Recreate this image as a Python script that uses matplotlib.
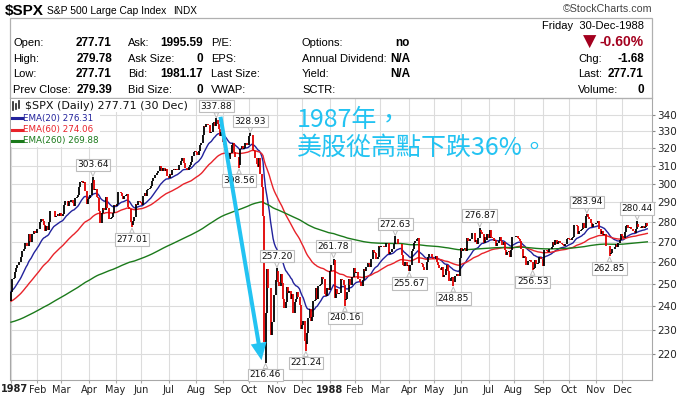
import numpy as np
import pandas as pd
import matplotlib
matplotlib.use("Agg")
import matplotlib.pyplot as plt
from matplotlib.patches import Rectangle, FancyArrowPatch
from matplotlib.lines import Line2D
from matplotlib.ticker import FixedLocator, NullLocator, FixedFormatter

# ---------------- data ----------------
holidays = ["1987-01-01", "1987-02-16", "1987-04-17", "1987-05-25", "1987-07-03",
            "1987-09-07", "1987-11-26", "1987-12-25",
            "1988-01-01", "1988-02-15", "1988-04-01", "1988-05-30", "1988-07-04",
            "1988-09-05", "1988-11-24", "1988-12-26"]

prev_close_1986 = 242.17

close_1987 = [
    # Jan
    246.45, 252.19, 252.78, 255.33, 257.28, 258.73, 260.30, 259.95, 262.64, 265.49, 266.28,
    269.34, 269.04, 267.84, 273.91, 270.10, 269.61, 273.75, 275.40, 274.24, 274.08,
    # Feb
    276.45, 275.99, 279.64, 281.16, 280.04, 278.16, 275.07, 277.54, 275.62, 279.70,
    285.49, 285.42, 285.57, 285.48, 282.38, 282.88, 284.00, 282.96, 284.20,
    # Mar
    283.00, 284.12, 288.62, 290.52, 290.66, 288.30, 290.86, 290.31, 291.22, 289.89, 288.23,
    292.47, 292.78, 294.08, 298.17, 301.16, 301.64, 300.38, 300.93, 296.13, 289.20, 291.70,
    # Apr
    292.39, 293.63, 300.41, 301.95, 296.69, 297.26, 292.86, 292.49, 285.62, 279.16, 284.44,
    286.91, 286.09, 293.07, 287.19, 286.82, 281.52, 281.83, 282.51, 284.57, 288.36,
    # May
    288.03, 289.36, 295.34, 295.47, 294.71, 293.37, 291.57, 293.30, 293.98, 294.24,
    287.43, 286.65, 279.62, 278.21, 280.17, 282.16, 289.11, 288.73, 290.76, 290.10,
    # Jun
    289.83, 288.46, 293.47, 295.09, 293.45, 296.72, 297.28, 297.47, 298.73, 301.62, 303.14,
    304.76, 304.81, 305.69, 306.97, 309.65, 308.43, 306.86, 308.96, 307.16, 307.90, 304.00,
    # Jul
    302.94, 305.63, 304.92, 307.40, 308.29, 307.52, 308.37, 307.63, 310.68, 310.42, 312.70,
    314.59, 311.39, 308.55, 308.47, 307.81, 309.27, 310.65, 312.33, 315.65, 318.05, 318.66,
    # Aug
    317.57, 316.23, 318.45, 322.10, 323.00, 328.00, 333.33, 332.39, 334.65, 333.99, 334.11,
    329.25, 329.83, 334.84, 335.90, 333.33, 336.77, 334.57, 331.38, 327.04, 329.80,
    # Sep
    323.40, 321.68, 320.21, 316.70, 313.56, 313.92, 317.13, 321.98, 323.08, 317.74, 314.86,
    314.93, 314.86, 310.54, 319.50, 321.19, 319.72, 320.16, 323.20, 321.69, 321.83,
    # Oct
    327.33, 328.07, 328.08, 319.22, 318.54, 314.16, 311.07, 309.39, 314.52, 305.23, 298.08,
    282.70, 224.84, 236.83, 256.90, 248.25, 248.22, 227.67, 233.19, 233.28, 244.77, 251.79,
    # Nov
    255.75, 250.82, 248.96, 254.48, 250.41, 243.17, 239.00, 241.90, 248.52, 245.64,
    246.76, 243.04, 245.55, 236.99, 242.00, 242.99, 246.39, 244.10, 240.34, 230.30,
    # Dec
    232.00, 233.45, 225.21, 223.92, 228.76, 234.91, 238.89, 233.57, 235.32, 242.19, 242.81,
    248.08, 242.98, 249.16, 249.54, 249.95, 253.16, 252.03, 245.57, 244.59, 247.86, 247.08,
]

close_1988 = [
    # Jan
    255.94, 258.63, 258.89, 261.07, 243.40, 247.49, 245.42, 245.81, 245.88, 252.05,
    251.88, 249.32, 242.63, 243.14, 246.50, 252.17, 249.57, 249.38, 253.29, 257.07,
    # Feb
    255.04, 255.57, 252.21, 252.21, 250.96, 249.10, 251.72, 256.66, 255.95, 257.63,
    259.83, 259.21, 257.91, 261.61, 265.64, 265.02, 264.43, 261.58, 262.46, 267.82,
    # Mar
    267.22, 267.98, 267.88, 267.30, 267.38, 269.43, 269.06, 263.84, 264.94, 266.37, 266.13,
    268.65, 271.22, 271.12, 268.74, 268.84, 268.91, 263.35, 258.51, 258.06, 260.07, 258.07,
    258.89,
    # Apr
    256.09, 258.51, 265.49, 266.16, 269.43, 270.16, 271.37, 271.58, 259.75, 259.77,
    259.21, 257.92, 256.13, 256.42, 260.14, 262.51, 263.93, 263.80, 262.61, 261.33,
    # May
    261.56, 263.00, 260.32, 258.79, 257.48, 256.54, 257.62, 253.31, 253.85, 256.78, 258.71,
    256.12, 251.35, 252.57, 253.02, 250.83, 253.51, 253.76, 254.63, 253.42, 262.16,
    # Jun
    266.69, 265.33, 266.45, 267.05, 265.17, 271.52, 270.20, 271.26, 271.43, 274.30, 274.45,
    269.77, 270.68, 268.94, 271.67, 275.66, 274.82, 273.78, 269.06, 272.31, 270.98, 273.50,
    # Jul
    271.78, 275.81, 272.02, 271.78, 270.02, 270.55, 267.85, 269.32, 270.26, 272.05,
    270.51, 268.47, 269.77, 265.71, 263.50, 264.68, 265.19, 262.50, 266.02, 272.02,
    # Aug
    272.21, 272.06, 272.98, 271.93, 271.15, 270.20, 266.49, 261.90, 262.75, 262.55, 258.69,
    260.56, 260.77, 261.03, 260.24, 256.98, 257.09, 261.13, 259.18, 259.68, 262.33, 262.51,
    261.52,
    # Sep
    258.35, 265.87, 265.88, 265.34, 264.88, 266.47, 266.23, 267.50, 269.76, 268.13, 270.65,
    268.82, 269.73, 270.16, 269.18, 268.88, 268.26, 267.97, 268.88, 271.38, 271.91,
    # Oct
    271.38, 270.62, 271.86, 272.39, 278.07, 278.24, 277.93, 273.98, 275.22, 275.50, 276.41,
    279.38, 276.97, 282.88, 283.66, 282.28, 281.38, 279.38, 277.28, 278.53, 278.97,
    # Nov
    279.06, 279.20, 280.25, 276.31, 273.93, 275.15, 273.33, 273.69, 267.92, 267.72, 267.73,
    263.82, 264.60, 266.47, 266.22, 267.21, 268.64, 267.23, 269.05, 270.91, 273.70,
    # Dec
    272.49, 271.81, 274.93, 277.59, 278.13, 276.59, 277.03, 276.31, 276.29, 275.31, 274.28,
    276.29, 278.91, 277.47, 277.38, 276.87, 277.87, 276.83, 277.08, 279.39, 277.71,
]

ema_periods = [20, 60, 260]
ema_seeds = [246.5, 242.0, 233.0]
ema_colors = ["#22229c", "#e8232a", "#1b7a1b"]
ema_legend = ["EMA(20) 276.31", "EMA(60) 274.06", "EMA(260) 269.88"]

ext_labels = ["303.64", "277.01", "337.88", "308.56", "328.93", "216.46", "257.20", "221.24",
              "261.78", "240.16", "272.63", "255.67", "248.85", "276.87", "256.53", "283.94",
              "262.85", "280.44"]
ext_dates = ["1987-04-06", "1987-05-20", "1987-08-25", "1987-09-21", "1987-10-02", "1987-10-20",
             "1987-11-02", "1987-12-04", "1988-01-07", "1988-01-20", "1988-03-17", "1988-04-04",
             "1988-05-23", "1988-06-22", "1988-08-22", "1988-10-21", "1988-11-16", "1988-12-19"]
ext_kind = ["high", "low", "high", "low", "high", "low", "high", "low", "high", "low", "high",
            "low", "low", "high", "low", "high", "low", "high"]

month_labels = ["1987", "Feb", "Mar", "Apr", "May", "Jun", "Jul", "Aug", "Sep", "Oct", "Nov", "Dec",
                "1988", "Feb", "Mar", "Apr", "May", "Jun", "Jul", "Aug", "Sep", "Oct", "Nov", "Dec"]
y_ticks = [220, 230, 240, 250, 260, 270, 280, 290, 300, 310, 320, 330, 340]

# ---------------- build ----------------
dates = pd.bdate_range("1987-01-01", "1988-12-30")
dates = dates[~dates.isin(pd.to_datetime(holidays))]
closes = np.array(close_1987 + close_1988)
assert len(closes) == len(dates), (len(closes), len(dates))
n = len(closes)
idx = np.arange(n)
prev = np.concatenate([[prev_close_1986], closes[:-1]])
lo = np.minimum(prev, closes)
hi = np.maximum(prev, closes)
ext_idx = [dates.get_loc(pd.Timestamp(d)) for d in ext_dates]
for i, lab, k in zip(ext_idx, ext_labels, ext_kind):
    if k == "high":
        hi[i] = max(hi[i], float(lab))
    else:
        lo[i] = min(lo[i], float(lab))
bar_colors = np.where(closes >= prev, "#000000", "#e00000")

month_key = dates.year * 12 + dates.month
month_starts = [0] + [i for i in range(1, n) if month_key[i] != month_key[i - 1]]


def ema(vals, period, seed):
    a = 2.0 / (period + 1)
    e = seed
    out = []
    for v in vals:
        e = e + a * (v - e)
        out.append(e)
    return np.array(out)


# ---------------- figure ----------------
W, H = 682, 398
fig = plt.figure(figsize=(W / 100, H / 100), dpi=100)


def fx(x):
    return x / W


def fy(y):
    return 1 - y / H


ax_l, ax_r, ax_t, ax_b = 10, 652, 98, 380
ax = fig.add_axes([fx(ax_l), fy(ax_b), fx(ax_r) - fx(ax_l), fy(ax_t) - fy(ax_b)])

px_per_bar = 1.26
x0 = -(11 - ax_l) / px_per_bar
x1 = x0 + (ax_r - ax_l) / px_per_bar
ax.set_xlim(x0, x1)
ax.set_yscale("log")
ax.set_ylim(209.8, 350.7)

ax.yaxis.set_major_locator(FixedLocator(y_ticks))
ax.yaxis.set_major_formatter(FixedFormatter([str(t) for t in y_ticks]))
ax.yaxis.set_minor_locator(NullLocator())
ax.yaxis.tick_right()
ax.set_xticks(month_starts)
ax.set_xticklabels([""] + month_labels[1:])
ax.xaxis.set_minor_locator(NullLocator())
ax.grid(True, which="major", color="#dcdcdc", lw=0.8, zorder=0)
ax.set_axisbelow(True)
ax.tick_params(axis="y", which="major", direction="out", length=2.5, width=0.8, color="#888888",
               labelsize=7.5, pad=1.0, labelcolor="#222222")
ax.tick_params(axis="x", which="major", direction="out", length=2.5, width=0.8, color="#aaaaaa",
               labelsize=7, pad=1.0, labelcolor="#222222")
for lab in ax.get_xticklabels():
    if lab.get_text() in ("1987", "1988"):
        lab.set_fontweight("bold")
for s in ax.spines.values():
    s.set_color("#a8a8a8")
    s.set_linewidth(0.8)
fig.text(fx(0.5), fy(389.5), month_labels[0], fontsize=7, fontweight="bold", va="center",
         ha="left", color="#222222")

# EMAs
for p, sd, c in zip(ema_periods, ema_seeds, ema_colors):
    ax.plot(idx, ema(closes, p, sd), color=c, lw=1.0, zorder=3)

# bars
ax.vlines(idx, lo, hi, colors=bar_colors, lw=1.3, zorder=4)

# extreme labels
for i, lab, k in zip(ext_idx, ext_labels, ext_kind):
    v = float(lab)
    off = 5.5 if k == "high" else -5.5
    ax.annotate(lab, xy=(i, v), xytext=(0, off), textcoords="offset points",
                ha="center", va="bottom" if k == "high" else "top", fontsize=6.5,
                color="#111111", zorder=6,
                bbox=dict(boxstyle="square,pad=0.18", fc="white", ec="#bdbdbd", lw=0.8),
                arrowprops=dict(arrowstyle="wedge,tail_width=0.5", fc="white", ec="#bdbdbd",
                                lw=0.7, shrinkA=0, shrinkB=0.5))

# big cyan arrow
cyan = "#23c3f2"
ax.add_patch(FancyArrowPatch((165.9, 340.6), (199.2, 216.4),
                             arrowstyle="simple,head_length=1.25,head_width=1.15,tail_width=0.29",
                             mutation_scale=10, color=cyan, lw=0, zorder=7))

# legend (top-left)
fig.add_artist(Rectangle((fx(11), fy(112)), fx(190) - fx(11), fy(99) - fy(112),
                         transform=fig.transFigure, fc="white", ec="none", zorder=7))
fig.text(fx(25), fy(106), "$SPX (Daily) 277.71 (30 Dec)", fontsize=8, va="center", ha="left",
         color="#111111", zorder=9)
for xx, h in zip([13, 16, 19], [(102, 110), (104, 109), (101, 108)]):
    fig.add_artist(Line2D([fx(xx), fx(xx)], [fy(h[0]), fy(h[1])], color="#222222", lw=1.2,
                          zorder=9))
for k, (txt, c) in enumerate(zip(ema_legend, ema_colors)):
    yy = 118 + 11.5 * k
    fig.add_artist(Rectangle((fx(11), fy(yy + 6)), fx(100) - fx(11), fy(yy - 5.5) - fy(yy + 6),
                             transform=fig.transFigure, fc="white", ec="none", zorder=7))
    fig.add_artist(Line2D([fx(12), fx(22)], [fy(yy), fy(yy)], color=c, lw=2.2, zorder=9))
    fig.text(fx(23), fy(yy), txt, fontsize=6.3, va="center", ha="left", color=c, zorder=9)

# Chinese annotation
cjk = ["Noto Sans CJK TC", "DejaVu Sans"]
fig.text(fx(297), fy(120), "1987年，", fontsize=18, family=cjk, fontweight="light", color=cyan,
         va="center", ha="left")
fig.text(fx(297), fy(148), "美股從高點下跌36%。", fontsize=18, family=cjk, fontweight="light",
         color=cyan, va="center", ha="left")

# ---------------- header ----------------
hdr = ["Liberation Sans", "DejaVu Sans"]
fig.text(fx(5), fy(10.5), "$SPX", fontsize=11, fontweight="bold", family=hdr, va="center")
fig.text(fx(47), fy(10.5), "S&P 500 Large Cap Index", fontsize=7.4, family=hdr, va="center")
fig.text(fx(173), fy(10.5), "INDX", fontsize=7.2, family=hdr, va="center")
fig.text(fx(652), fy(9.5), "\u00a9StockCharts.com", fontsize=7.7, family=hdr, va="center",
         ha="right", color="#444444")
fig.add_artist(Rectangle((fx(10), fy(98)), fx(652) - fx(10), fy(18) - fy(98),
                         transform=fig.transFigure, fc="none", ec="#b0b0b0", lw=0.9))

rows_y = [43, 58.5, 74, 90]
col1_lab = ["Open:", "High:", "Low:", "Prev Close:"]
col1_val = ["277.71", "279.78", "277.71", "279.39"]
col2_lab = ["Ask:", "Ask Size:", "Bid:", "Bid Size:"]
col2_val = ["1995.59", "0", "1981.17", "0"]
col3_lab = ["P/E:", "EPS:", "Last Size:", "VWAP:"]
col4_lab = ["Options:", "Annual Dividend:", "Yield:", "SCTR:"]
col4_val = ["no", "N/A", "N/A", ""]
col5_lab = ["", "Chg:", "Last:", "Volume:"]
col5_val = ["", "-1.68", "277.71", "0"]

for r, yy in enumerate(rows_y):
    fig.text(fx(13), fy(yy), col1_lab[r], fontsize=8, family=hdr, va="center")
    fig.text(fx(112), fy(yy), col1_val[r], fontsize=8.5, fontweight="bold", family=hdr,
             va="center", ha="right")
    fig.text(fx(128), fy(yy), col2_lab[r], fontsize=8, family=hdr, va="center")
    fig.text(fx(203), fy(yy), col2_val[r], fontsize=8.5, fontweight="bold", family=hdr,
             va="center", ha="right")
    fig.text(fx(211), fy(yy), col3_lab[r], fontsize=8, family=hdr, va="center")
    fig.text(fx(302), fy(yy), col4_lab[r], fontsize=8, family=hdr, va="center")
    if col4_val[r]:
        fig.text(fx(410), fy(yy), col4_val[r], fontsize=8.5, fontweight="bold", family=hdr,
                 va="center", ha="right")
    if col5_lab[r]:
        fig.text(fx(578), fy(yy), col5_lab[r], fontsize=8, family=hdr, va="center")
        fig.text(fx(644), fy(yy), col5_val[r], fontsize=8.5, fontweight="bold", family=hdr,
                 va="center", ha="right")

fig.text(fx(644), fy(26), "Friday  30-Dec-1988", fontsize=8, family=hdr, va="center", ha="right")
fig.text(fx(644), fy(42), "-0.60%", fontsize=10, fontweight="bold", family=hdr, va="center",
         ha="right", color="#a3001e")
fig.text(fx(596), fy(42), "\u25bc", fontsize=12.5, family=["DejaVu Sans"], va="center",
         ha="right", color="#a3001e")

fig.savefig("out.png", dpi=100)
